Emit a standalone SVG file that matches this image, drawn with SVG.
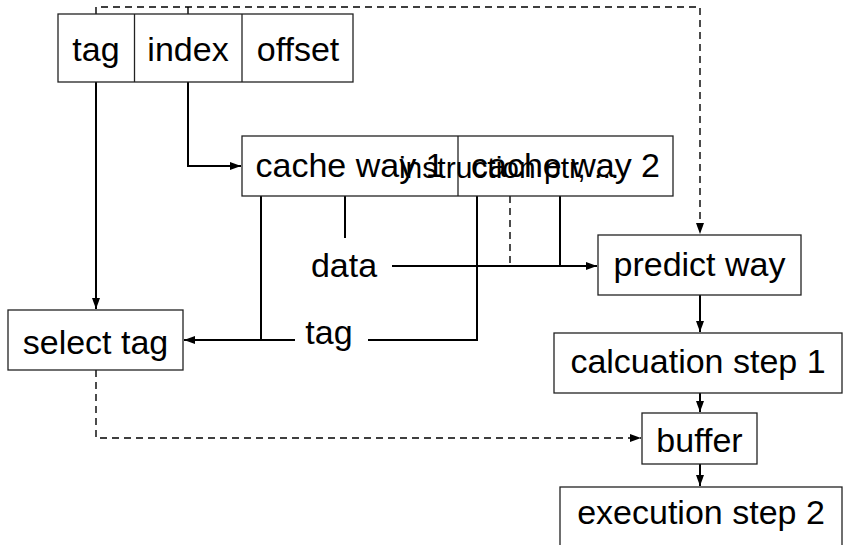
<svg xmlns="http://www.w3.org/2000/svg" width="843" height="545" viewBox="0 0 843 545">
<style>
.box{fill:#fff;stroke:#222;stroke-width:1.3}
.t{font-family:"Liberation Sans",Arial,sans-serif;font-size:34px;fill:#000;text-anchor:middle}
.s{font-family:"Liberation Sans",Arial,sans-serif;font-size:30px;fill:#000;text-anchor:middle}
.c{fill:none;stroke:#000;stroke-width:2}
.d{fill:none;stroke:#000;stroke-width:1.4;stroke-dasharray:7 5}
</style>
<defs>
<marker id="a" markerUnits="userSpaceOnUse" markerWidth="12" markerHeight="10" refX="11" refY="5" orient="auto">
<path d="M0,1 L11,5 L0,9 Z" fill="#000"/>
</marker>
</defs>
<rect width="843" height="545" fill="#fff"/>
<g id="connectors">
<path class="d" d="M96 14 V7 H700 V234" marker-end="url(#a)"/>
<path class="d" d="M188 14 V7"/>
<path class="c" d="M96 82 V309" marker-end="url(#a)"/>
<path class="c" d="M188 82 V166 H241" marker-end="url(#a)"/>
<path class="c" d="M261 196 V340"/>
<path class="c" d="M295 340 H184" marker-end="url(#a)"/>
<path class="c" d="M345 196 V238"/>
<path class="c" d="M368 340 H477 V196"/>
<path class="c" d="M392 266 H597" marker-end="url(#a)"/>
<path class="c" d="M560 196 V266"/>
<path class="d" d="M510 196 V266"/>
<path class="c" d="M700 295 V332" marker-end="url(#a)"/>
<path class="c" d="M700 393 V412" marker-end="url(#a)"/>
<path class="c" d="M700 464 V486" marker-end="url(#a)"/>
<path class="d" d="M96 370 V438 H641" marker-end="url(#a)"/>
</g>
<g id="address">
<rect class="box" x="58" y="14" width="295" height="68"/>
<line class="box" x1="134.5" y1="14" x2="134.5" y2="82"/>
<line class="box" x1="242" y1="14" x2="242" y2="82"/>
<text class="t" x="96" y="61">tag</text>
<text class="t" x="188" y="61">index</text>
<text class="t" x="298" y="61">offset</text>
</g>
<g id="cache">
<rect class="box" x="242" y="136" width="431" height="60"/>
<line class="box" x1="458" y1="136" x2="458" y2="196"/>
<text class="t" x="350" y="177">cache way 1</text>
<text class="t" x="565.5" y="177">cache way 2</text>
<text class="s" x="509" y="178">instruction ptr, ...</text>
</g>
<g id="data-label"><text class="t" x="344" y="277">data</text></g>
<g id="tag-label"><text class="t" x="329" y="344">tag</text></g>
<g id="select-tag">
<rect class="box" x="8" y="310" width="175" height="60"/>
<text class="t" x="95.5" y="354">select tag</text>
</g>
<g id="predict-way">
<rect class="box" x="598" y="235" width="203" height="60"/>
<text class="t" x="699.5" y="276">predict way</text>
</g>
<g id="calc1">
<rect class="box" x="554" y="333" width="288" height="60"/>
<text class="t" x="698" y="373">calcuation step 1</text>
</g>
<g id="buffer">
<rect class="box" x="642" y="413" width="115" height="51"/>
<text class="t" x="699.5" y="452">buffer</text>
</g>
<g id="exec2">
<rect class="box" x="560" y="487" width="282" height="62"/>
<text class="t" x="701" y="524">execution step 2</text>
</g>
</svg>
